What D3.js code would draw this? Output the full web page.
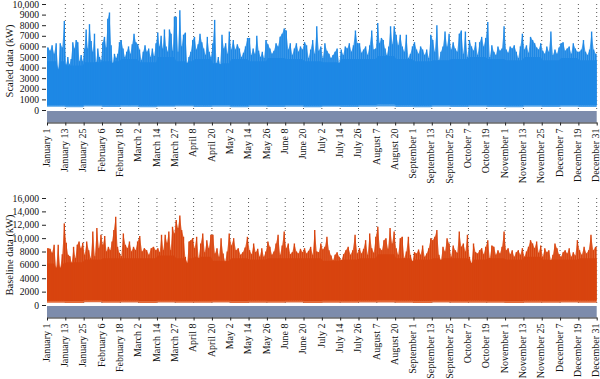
<!DOCTYPE html>
<html>
<head>
<meta charset="utf-8">
<script src="https://cdn.jsdelivr.net/npm/d3@7"></script>
<style>
  html, body { margin: 0; padding: 0; background: #fff; }
  svg { display: block; }
  text { font-family: "Liberation Serif", "DejaVu Serif", serif; fill: #111; }
</style>
</head>
<body>
<svg id="chart" width="600" height="379"></svg>
<script>
// Tick labels (30 equal intervals across the year)
const tickLabels = ["January 1","January 13","January 25","February 6","February 18","March 2","March 14","March 27","April 8","April 20","May 2","May 14","May 26","June 8","June 20","July 2","July 14","July 26","August 7","August 20","September 1","September 13","September 25","October 7","October 19","November 1","November 13","November 25","December 7","December 19","December 31"];

// Scaled data peaks (kW, thousands), one row per tick interval
const scaledPeaks = [
  [5.9,5.6,6.1,5.3,6.3,3.8,6.3,5.9,8.4],
  [4.3,5.0,4.3,4.8,6.4,5.8,6.6,6.4,4.6,5.2,4.6],
  [5.8,7.6,5.8,8.1,6.5,5.5,7.2,4.5,5.8,5.0,4.7],
  [6.4,6.9,5.9,8.6,9.2,6.1,4.4,5.3,4.9,5.3,6.4],
  [6.6,5.8,5.0,5.5,6.0,5.3,6.2,7.2,6.4,6.2],
  [5.7,4.7,5.5,6.1,5.5,5.8,5.0,5.8,5.1,6.3],
  [7.3,6.0,7.0,5.8,7.6,6.0,5.5,7.6,7.2,5.6,8.8],
  [8.8,5.5,9.4,6.0,7.1,7.3,4.4,5.0,5.5,6.6],
  [6.9,5.7,6.2,7.2,6.4,5.8,5.2,6.9,5.5,5.0],
  [6.3,8.5,4.4,5.0,4.3,7.1,5.8,6.3,5.3,7.4],
  [5.7,6.6,5.7,6.2,5.8,5.0,5.4,6.0,6.8],
  [6.8,5.2,5.8,5.3,7.0,5.6,5.0,5.5,4.9,6.6],
  [6.2,5.8,5.3,5.6,6.3,6.0,6.9,7.2,7.7],
  [7.5,5.7,6.3,5.2,5.8,6.3,5.5,6.0,5.7],
  [6.4,6.1,4.9,5.7,6.6,5.3,7.9,5.6,6.0],
  [4.9,6.3,5.6,5.3,4.9,5.2,5.5,5.8,4.4],
  [5.7,5.2,6.0,5.8,6.3,5.5,6.1,7.5,6.3],
  [6.3,5.4,5.7,6.0,5.2,6.1,7.5,5.7,5.8],
  [8.2,6.3,6.8,6.6,5.8,5.2,6.0,7.9,6.2,7.9],
  [7.1,6.1,7.1,6.0,5.5,7.1,4.9,5.3,6.0],
  [6.4,5.7,5.3,6.0,5.7,5.2,5.7,4.9,7.1],
  [6.6,5.5,8.0,4.7,5.5,6.0,7.4,6.0,7.2],
  [5.7,6.4,5.8,5.5,7.2,7.5,5.3,7.4,5.0],
  [6.6,6.0,5.6,6.4,5.2,6.4,6.9,6.0,6.8],
  [8.3,5.0,6.1,5.5,5.2,6.0,5.6,5.8,7.9],
  [5.7,5.4,6.0,5.8,6.1,5.5,4.9,6.0,7.2],
  [5.7,6.1,5.4,6.9,6.6,6.3,5.9,5.7,6.3],
  [5.6,5.3,6.0,5.5,7.4,5.2,5.7,5.3,5.9],
  [6.3,6.4,5.6,5.8,6.0,5.3,6.3,5.8,5.5],
  [5.5,5.7,6.6,5.5,5.2,5.7,7.4,5.7,5.3]
];
// Scaled data dense level (kW, thousands), one value per tick interval
const scaledBody = [4.6,4.2,4.5,4.6,4.8,4.5,5.0,4.6,4.8,4.4,4.8,4.6,4.9,4.8,4.6,4.5,4.8,4.8,5.1,4.8,4.6,4.7,4.8,5.0,4.8,4.7,5.0,4.7,4.9,4.7];
// Scaled data lower envelope and solid floor (kW, thousands)
const scaledLow = [0.30,0.25,0.32,0.28,0.30,0.26,0.30,0.33,0.28,0.30,0.27,0.31,0.29,0.30,0.26,0.30,0.28,0.30,0.32,0.29,0.27,0.30,0.28,0.31,0.29,0.27,0.30,0.28,0.31,0.29];
const scaledFloor = [0.45,0.42,0.50,0.44,0.46,0.42,0.45,0.50,0.44,0.47,0.42,0.48,0.45,0.47,0.42,0.45,0.44,0.47,0.55,0.45,0.42,0.47,0.44,0.48,0.45,0.42,0.47,0.44,0.48,0.45];

// Baseline data peaks (kW, thousands), one row per tick interval
const baselinePeaks = [
  [8.5,8.4,7.8,9.0,5.5,9.0,5.5,7.6,12.2],
  [9.3,7.5,7.3,6.3,8.7,7.0,9.0,9.5,8.5,9.3],
  [7.5,9.5,8.2,7.0,11.0,7.3,11.5,8.5,10.5],
  [9.0,10.3,8.0,8.7,8.2,9.5,11.2,13.2,8.7,7.8],
  [7.3,10.7,9.0,8.5,9.5,8.0,8.7,8.2,9.5],
  [10.3,8.0,8.5,8.2,7.5,8.5,8.7,8.2],
  [8.5,7.9,10.5,8.2,10.5,9.3,11.0,8.2,11.7,10.7],
  [12.7,11.5,13.4,11.2,10.2,7.2,6.2,9.5,9.7,10.0],
  [8.5,10.2,7.0,9.2,10.7,7.9,9.7,8.5,10.5],
  [10.5,7.7,8.5,7.2,10.0,7.7,6.5,8.0,10.7],
  [8.9,10.0,8.2,8.5,7.5,7.9,8.6,10.2],
  [8.2,7.6,9.2,7.9,8.4,7.2,8.5,7.2,8.0],
  [9.5,8.7,7.5,8.0,9.2,10.5,7.5,8.9,11.0],
  [8.5,9.2,7.6,7.9,9.2,8.0,7.7,8.4,7.9],
  [8.5,7.7,8.1,8.7,7.5,11.2,8.0,7.9,9.2],
  [8.3,8.7,10.2,8.2,7.4,6.7,7.5,7.9,7.2],
  [6.7,7.6,8.2,8.7,7.5,8.2,10.5,7.7],
  [8.5,7.7,8.4,9.7,7.5,10.7,8.5,7.8,10.2],
  [11.7,8.5,8.2,9.7,10.0,8.4,11.5,9.2,11.0],
  [8.5,7.5,10.0,10.2,7.0,8.0,10.2,7.5,6.5],
  [7.9,7.7,8.3,7.5,8.9,7.2,7.7,8.5,10.0],
  [9.7,10.2,11.2,7.5,6.7,8.7,8.0,10.0,9.2],
  [7.2,8.9,8.2,7.8,11.0,8.7,9.2,8.0,10.5],
  [7.2,6.2,9.2,7.9,7.7,8.2,8.5,7.6,8.7],
  [9.7,7.0,8.9,8.7,7.5,8.2,7.7,8.7,11.0],
  [8.2,8.5,7.6,8.2,7.2,7.9,8.2,7.5,8.5],
  [7.2,8.0,8.7,9.7,9.2,8.5,9.5,7.8,8.9],
  [7.2,8.5,7.9,8.2,6.7,7.5,9.2,8.5,7.6],
  [7.2,7.9,8.2,7.7,8.5,7.2,7.9,7.4,9.7],
  [8.2,7.5,8.7,7.7,8.2,10.5,8.2,8.7]
];
// Baseline data dense level (kW, thousands), one value per tick interval
const baselineBody = [6.2,6.4,6.8,7.0,7.0,7.0,7.4,7.0,7.2,6.6,7.0,6.8,7.0,7.0,7.0,6.6,6.8,7.0,7.6,7.0,6.8,7.0,7.0,6.8,7.0,6.8,7.2,6.8,6.8,7.0];
// Baseline data lower envelope and solid floor (kW, thousands)
const baselineLow = [0.35,0.30,0.40,0.33,0.36,0.30,0.38,0.34,0.32,0.36,0.30,0.35,0.33,0.37,0.31,0.35,0.33,0.36,0.38,0.34,0.31,0.36,0.33,0.35,0.32,0.30,0.35,0.33,0.36,0.34];
const baselineFloor = [0.65,0.60,0.72,0.64,0.68,0.60,0.68,0.64,0.62,0.68,0.60,0.66,0.64,0.68,0.60,0.66,0.64,0.68,0.72,0.66,0.62,0.68,0.64,0.67,0.63,0.60,0.66,0.64,0.68,0.66];

// Y axis tick values (kW)
const scaledTicks = [0,1000,2000,3000,4000,5000,6000,7000,8000,9000,10000];
const baselineTicks = [0,2000,4000,6000,8000,10000,12000,14000,16000];

const svg = d3.select("#chart");
const nT = tickLabels.length - 1;
const x = d3.scaleLinear().domain([0, nT]).range([47, 596.7]);

function buildSeries(peaks, lows, body, floor) {
  const pts = [];
  peaks.forEach((row, k) => {
    row.forEach((v, j) => {
      const t = k + (j + 0.5) / row.length;
      pts.push({t, hi: v * 1000, lo: lows[k] * 1000, body: body[k] * 1000, floor: floor[k] * 1000});
    });
  });
  return pts;
}
function withEdges(pts) {
  const a = pts[0], b = pts[pts.length - 1];
  return [Object.assign({}, a, {t: 0}), ...pts, Object.assign({}, b, {t: nT})];
}

const fmt = d => d >= 10000 ? d3.format(",")(d) : String(d);

function panel(cfg) {
  const g = svg.append("g");
  const y = d3.scaleLinear().domain([0, cfg.max]).range([cfg.y0, cfg.yTop]);

  // dotted vertical gridlines
  g.append("g").selectAll("line")
    .data(d3.range(1, tickLabels.length))
    .join("line")
    .attr("x1", d => x(d)).attr("x2", d => x(d))
    .attr("y1", cfg.yTop).attr("y2", cfg.y0)
    .attr("stroke", "#555").attr("stroke-width", 1)
    .attr("stroke-dasharray", "1,3");

  const pts = buildSeries(cfg.peaks, cfg.lows, cfg.body, cfg.floor);
  const ext = withEdges(pts);

  // light fringe: full envelope
  g.append("path").datum(ext)
    .attr("d", d3.area().x(d => x(d.t)).y0(d => y(d.lo)).y1(d => y(d.hi)).curve(d3.curveLinear))
    .attr("fill", cfg.tint);

  // dense solid body
  g.append("path").datum(ext)
    .attr("d", d3.area().x(d => x(d.t)).y0(d => y(d.floor)).y1(d => y(Math.min(d.body, d.hi))).curve(d3.curveLinear))
    .attr("fill", cfg.color);

  // spikes
  g.append("g").selectAll("line")
    .data(pts)
    .join("line")
    .attr("x1", d => x(d.t)).attr("x2", d => x(d.t))
    .attr("y1", d => y(d.floor)).attr("y2", d => y(d.hi))
    .attr("stroke", cfg.color).attr("stroke-width", 1.4);

  // gray band below zero
  g.append("rect")
    .attr("x", x(0)).attr("width", x(nT) - x(0))
    .attr("y", cfg.y0 + 1).attr("height", cfg.axisY - cfg.y0 - 1)
    .attr("fill", "#7D8CAC");

  // y axis
  const ya = g.append("g").attr("transform", `translate(46,0)`)
    .call(d3.axisLeft(y).tickValues(cfg.ticks).tickFormat(fmt).tickSize(4).tickPadding(3));
  ya.select(".domain").remove();
  ya.selectAll("text").attr("font-size", 9.6).attr("font-family", "Liberation Serif");
  ya.selectAll("line").attr("stroke", "#222");

  // x axis
  const xa = g.append("g").attr("transform", `translate(0,${cfg.axisY})`)
    .call(d3.axisBottom(x).tickValues(d3.range(tickLabels.length)).tickFormat(i => tickLabels[i]).tickSize(3).tickSizeOuter(0));
  xa.select(".domain").attr("stroke", "#222");
  xa.selectAll("line").attr("stroke", "#222");
  xa.selectAll("text")
    .attr("font-size", 10).attr("font-family", "Liberation Serif")
    .attr("text-anchor", "end")
    .attr("transform", "rotate(-90)")
    .attr("x", -6).attr("y", 0).attr("dy", "0.22em");

  // y title
  svg.append("text")
    .attr("transform", `translate(12.5,${cfg.titleY}) rotate(-90)`)
    .attr("text-anchor", "middle")
    .attr("font-size", 10.5)
    .text(cfg.title);
}

panel({
  peaks: scaledPeaks, lows: scaledLow, body: scaledBody, floor: scaledFloor,
  max: 10000, ticks: scaledTicks,
  y0: 110, yTop: 4, axisY: 122.5, color: "#1E88E5", tint: "#4FA2EA",
  title: "Scaled data (kW)", titleY: 61
});
panel({
  peaks: baselinePeaks, lows: baselineLow, body: baselineBody, floor: baselineFloor,
  max: 16000, ticks: baselineTicks,
  y0: 305, yTop: 198, axisY: 317.5, color: "#D8440F", tint: "#E26A3A",
  title: "Baseline data (kW)", titleY: 255
});
</script>
</body>
</html>
